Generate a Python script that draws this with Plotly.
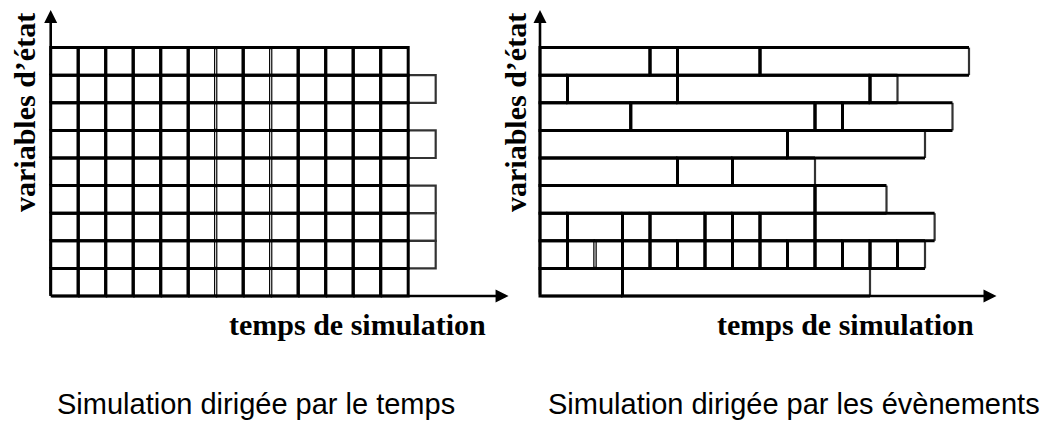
import plotly.graph_objects as go

# ---------------- data ----------------
# Left panel: time-driven simulation (regular grid)
left_n_cols = 13            # regular time steps
left_n_rows = 9             # state variables
left_extra_rows = [1, 2, 3, 5, 7]   # rows (from bottom) having one extra time step
left_double_cols = [6, 8]           # column boundaries drawn as a double line

# Right panel: event-driven simulation, event boundaries per row (bottom -> top)
right_rows = [
    [0, 3, 12],
    [0, 1, 2, 3, 4, 5, 6, 7, 8, 9, 10, 11, 12, 13, 14],
    [0, 1, 3, 4, 6, 7, 8, 10, 14.35],
    [0, 10, 12.6],
    [0, 5, 7, 10],
    [0, 9, 14],
    [0, 3.3, 10, 11, 15],
    [0, 1, 5, 12, 13],
    [0, 4, 5, 8, 15.6],
]
right_double = [(1, 2)]   # (row, boundary) drawn as a double line

y_label = "variables d’état"
x_label = "temps de simulation"
captions = ["Simulation dirigée par le temps", "Simulation dirigée par les évènements"]

arrow_x_end = [16.65, 16.6]
arrow_y_end = 10.36

# ---------------- build line paths ----------------
def add_rect(xs, ys, x0, x1, y0, y1):
    xs += [x0, x1, x1, x0, x0, None]
    ys += [y0, y0, y1, y1, y0, None]

fig = go.Figure()

LW = 3.0

# left panel
lx, ly = [], []
ex, ey = [], []
for r in range(left_n_rows):
    for c in range(left_n_cols):
        add_rect(lx, ly, c, c + 1, r, r + 1)
for r in left_extra_rows:
    add_rect(ex, ey, left_n_cols, left_n_cols + 1, r, r + 1)
dx, dy = [], []
for c in left_double_cols:
    for r in range(left_n_rows):
        dx += [c, c, None]
        dy += [r + 0.06, r + 0.94, None]

fig.add_trace(go.Scatter(x=ex, y=ey, mode="lines", line=dict(color="#333", width=2.2),
                         hoverinfo="skip", showlegend=False, xaxis="x", yaxis="y"))
fig.add_trace(go.Scatter(x=lx, y=ly, mode="lines", line=dict(color="black", width=LW),
                         hoverinfo="skip", showlegend=False, xaxis="x", yaxis="y"))
fig.add_trace(go.Scatter(x=dx, y=dy, mode="lines", line=dict(color="white", width=1),
                         hoverinfo="skip", showlegend=False, xaxis="x", yaxis="y"))

# right panel
rx, ry = [], []
ox, oy = [], []
for r, bounds in enumerate(right_rows):
    for i in range(len(bounds) - 1):
        x0, x1 = bounds[i], bounds[i + 1]
        rx += [x1, x0, x0, x1, None]
        ry += [r, r, r + 1, r + 1, None]
        if i < len(bounds) - 2:
            rx += [x1, x1, None]
            ry += [r, r + 1, None]
        else:
            ox += [x1, x1, None]
            oy += [r, r + 1, None]
rdx, rdy = [], []
for r, b in right_double:
    rdx += [b, b, None]
    rdy += [r + 0.06, r + 0.94, None]

fig.add_trace(go.Scatter(x=ox, y=oy, mode="lines", line=dict(color="#333", width=2.2),
                         hoverinfo="skip", showlegend=False, xaxis="x2", yaxis="y2"))
fig.add_trace(go.Scatter(x=rx, y=ry, mode="lines", line=dict(color="black", width=LW),
                         hoverinfo="skip", showlegend=False, xaxis="x2", yaxis="y2"))
fig.add_trace(go.Scatter(x=rdx, y=rdy, mode="lines", line=dict(color="white", width=1),
                         hoverinfo="skip", showlegend=False, xaxis="x2", yaxis="y2"))

# ---------------- axes with arrows ----------------
annotations = []
for k, (xa, ya) in enumerate([("x", "y"), ("x2", "y2")]):
    annotations.append(dict(x=arrow_x_end[k], y=0, ax=0, ay=0, xref=xa, yref=ya,
                            axref=xa, ayref=ya, text="", showarrow=True,
                            arrowhead=2, arrowsize=1.0, arrowwidth=2.6, arrowcolor="black"))
    annotations.append(dict(x=0, y=arrow_y_end, ax=0, ay=0, xref=xa, yref=ya,
                            axref=xa, ayref=ya, text="", showarrow=True,
                            arrowhead=2, arrowsize=1.0, arrowwidth=2.6, arrowcolor="black"))

W, H = 1046, 423
serif = dict(family="Liberation Serif", size=30, color="black", weight="bold")
sans = dict(family="Liberation Sans", size=29, color="black")

for cx in [24, 515]:
    annotations.append(dict(x=cx / W, y=1 - 113 / H, xref="paper", yref="paper",
                            text=y_label, textangle=-90, showarrow=False,
                            xanchor="center", yanchor="middle", font=serif))
for cx in [357.5, 845.5]:
    annotations.append(dict(x=cx / W, y=1 - 324 / H, xref="paper", yref="paper",
                            text=x_label, showarrow=False,
                            xanchor="center", yanchor="middle", font=serif))
for cx, txt in zip([256, 793.5], captions):
    annotations.append(dict(x=cx / W, y=1 - 404 / H, xref="paper", yref="paper",
                            text=txt, showarrow=False,
                            xanchor="center", yanchor="middle", font=sans))

ax_common = dict(visible=False, showgrid=False, zeroline=False, fixedrange=True)
fig.update_layout(
    width=W, height=H,
    margin=dict(l=0, r=0, t=0, b=0),
    paper_bgcolor="white", plot_bgcolor="white",
    xaxis=dict(domain=[0, 0.5], range=[-1.844, 17.175], **ax_common),
    yaxis=dict(domain=[0, 1], range=[-4.601, 10.725], **ax_common),
    xaxis2=dict(domain=[0.5, 1], range=[-0.618, 18.4], anchor="y2", **ax_common),
    yaxis2=dict(domain=[0, 1], range=[-4.601, 10.725], anchor="x2", **ax_common),
    annotations=annotations,
    showlegend=False,
)

fig.write_html(
    "out.html",
    config={"displayModeBar": False, "staticPlot": True},
    post_script="document.body.style.margin='0';document.body.style.overflow='hidden';",
)
